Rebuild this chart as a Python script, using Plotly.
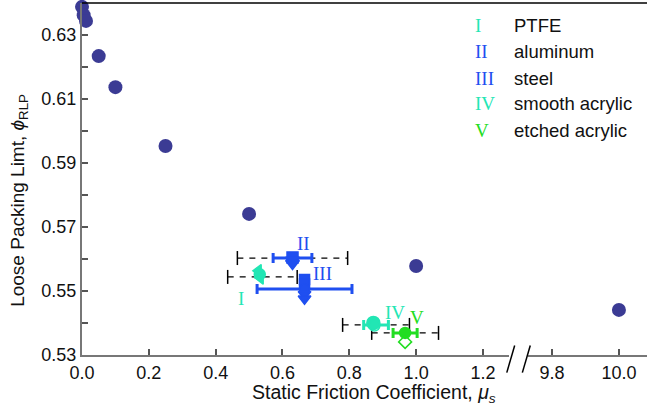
import plotly.graph_objects as go

# ---------------- data ----------------
mu_sim = [0.0, 0.005, 0.012, 0.05, 0.1, 0.25, 0.5, 1.0]
phi_sim = [0.6388, 0.6362, 0.6344, 0.6234, 0.6137, 0.5953, 0.5741, 0.5578]
mu_sim_hi = [10.0]
phi_sim_hi = [0.5441]

labels = ["I", "II", "III", "IV", "V"]
names = ["PTFE", "aluminum", "steel", "smooth acrylic", "etched acrylic"]
colors = ["#22e6b4", "#1f4ff0", "#1f4ff0", "#22e6b4", "#22dd22"]
mu_exp = [0.54, 0.63, 0.666, 0.88, 0.967]
phi_exp = [0.5544, 0.5603, 0.5506, 0.5394, 0.5369]
err_solid = [None, 0.058, 0.142, 0.037, 0.036]
err_dash = [0.104, 0.165, None, 0.10, 0.10]

# individual measurement markers per material
pts_mu = [[0.528, 0.532, 0.534], [0.63, 0.63, 0.63],
          [0.666, 0.666, 0.666, 0.666, 0.666], [0.872, 0.875], [0.967, 0.967]]
pts_phi = [[0.5563, 0.5552, 0.5541], [0.5605, 0.5596, 0.5586],
           [0.5536, 0.5522, 0.5506, 0.5490, 0.5476], [0.5400, 0.5392], [0.5369, 0.5341]]
pts_sym = [["triangle-left", "circle", "triangle-left"],
           ["square", "triangle-down", "triangle-down"],
           ["square", "square", "circle", "triangle-down", "triangle-down"],
           ["circle", "circle-open"], ["circle", "diamond-open"]]
pts_size = [[11, 11, 11], [11, 12, 12], [10, 10, 10, 11, 11], [13, 11], [11, 10]]

label_pos_mu = [0.476, 0.662, 0.719, 0.937, 1.003]
label_pos_phi = [0.5478, 0.5650, 0.5556, 0.5434, 0.5416]

x_ticks_lo = [0.0, 0.2, 0.4, 0.6, 0.8, 1.0, 1.2]
x_ticks_hi = [9.8, 10.0]
y_ticks = [0.53, 0.55, 0.57, 0.59, 0.61, 0.63]

SIM_COLOR = "#3b3b94"
FONT = "Liberation Sans, Arial, sans-serif"
SERIF = "Liberation Serif, Times New Roman, serif"

fig = go.Figure()

# dashed error bars (black)
for i in range(len(labels)):
    if err_dash[i] is None:
        continue
    xs = [mu_exp[i] - err_dash[i], mu_exp[i] + err_dash[i]]
    ys = [phi_exp[i], phi_exp[i]]
    fig.add_trace(go.Scatter(x=xs, y=ys, mode="lines+markers",
                             line=dict(color="black", width=1.3, dash="6px,6px"),
                             marker=dict(symbol="line-ns", size=10,
                                         line=dict(color="black", width=1.5)),
                             showlegend=False, cliponaxis=False))

# solid error bars
for i in range(len(labels)):
    if err_solid[i] is None:
        continue
    fig.add_trace(go.Scatter(x=[mu_exp[i]], y=[phi_exp[i]], mode="markers",
                             marker=dict(size=1, color=colors[i], opacity=0),
                             error_x=dict(type="data", array=[err_solid[i]],
                                          color=colors[i], thickness=3, width=5),
                             showlegend=False))

# individual markers
for i in range(len(labels)):
    fig.add_trace(go.Scatter(x=pts_mu[i], y=pts_phi[i], mode="markers",
                             marker=dict(symbol=pts_sym[i], size=pts_size[i], color=colors[i],
                                         opacity=1, line=dict(color=colors[i], width=1.5)),
                             showlegend=False, cliponaxis=False))

# simulation points
fig.add_trace(go.Scatter(x=mu_sim, y=phi_sim, mode="markers",
                         marker=dict(size=14, color=SIM_COLOR, opacity=1),
                         showlegend=False, cliponaxis=False))
fig.add_trace(go.Scatter(x=mu_sim_hi, y=phi_sim_hi, mode="markers", xaxis="x2",
                         marker=dict(size=14, color=SIM_COLOR, opacity=1),
                         showlegend=False, cliponaxis=False))

# roman numeral labels near data
for i in range(len(labels)):
    fig.add_annotation(x=label_pos_mu[i], y=label_pos_phi[i], text=labels[i],
                       showarrow=False, font=dict(family=SERIF, size=19, color=colors[i]),
                       xanchor="center", yanchor="middle")

# legend built from text
leg_y = [0.9375, 0.8636, 0.7869, 0.7131, 0.6392]
for i in range(len(labels)):
    fig.add_annotation(xref="paper", yref="paper", x=0.6920, y=leg_y[i], text=labels[i],
                       showarrow=False, xanchor="left", yanchor="middle",
                       font=dict(family=SERIF, size=19, color=colors[i]))
    fig.add_annotation(xref="paper", yref="paper", x=0.7610, y=leg_y[i], text=names[i],
                       showarrow=False, xanchor="left", yanchor="middle",
                       font=dict(family=FONT, size=18.5, color="#111"))

# axis titles
fig.add_annotation(xref="paper", yref="paper", x=0.517, y=-0.108,
                   text="Static Friction Coefficient, <i>μ<sub>s</sub></i>",
                   showarrow=False, xanchor="center", yanchor="middle",
                   font=dict(family=FONT, size=19.5, color="#111"))
fig.add_annotation(xref="paper", yref="paper", x=-0.112, y=0.44,
                   text="Loose Packing Limt, <i>ϕ</i><sub>RLP</sub>", textangle=-90,
                   showarrow=False, xanchor="center", yanchor="middle",
                   font=dict(family=FONT, size=19, color="#111"))

D1 = 0.7558
D2 = 0.7894
AX = dict(showline=True, linecolor="#777", linewidth=2, ticks="inside", ticklen=6,
          tickcolor="#555", tickwidth=1.5, showgrid=False, zeroline=False,
          tickfont=dict(family=FONT, size=18, color="#111"))

fig.update_layout(
    width=647, height=408, margin=dict(l=82, r=0, t=3, b=53),
    paper_bgcolor="white", plot_bgcolor="white",
    xaxis=dict(domain=[0, D1], range=[0, 1.278], tickvals=x_ticks_lo,
               ticktext=[f"{v:.1f}" for v in x_ticks_lo], anchor="y", **AX),
    xaxis2=dict(domain=[D2, 1], range=[9.728, 10.084], tickvals=x_ticks_hi,
                ticktext=[f"{v:.1f}" for v in x_ticks_hi], anchor="y", **AX),
    yaxis=dict(range=[0.53, 0.64], tickvals=y_ticks,
               ticktext=[f"{v:.2f}" for v in y_ticks],
               minor=dict(tickvals=[0.54, 0.56, 0.58, 0.60, 0.62], ticks="inside",
                          ticklen=6, tickcolor="#555", tickwidth=1.5),
               **AX),
    showlegend=False,
)

# top border line
fig.add_shape(type="line", xref="paper", yref="paper", x0=0, x1=1, y0=1, y1=1,
              line=dict(color="black", width=1.5))
# axis-break slashes
for xc in [(D1 + 0.003), (D2 - 0.003)]:
    fig.add_shape(type="line", xref="paper", yref="paper",
                  x0=xc - 0.007, x1=xc + 0.007, y0=-0.05, y1=0.027,
                  line=dict(color="black", width=1.5))

fig.write_html("out.html")
